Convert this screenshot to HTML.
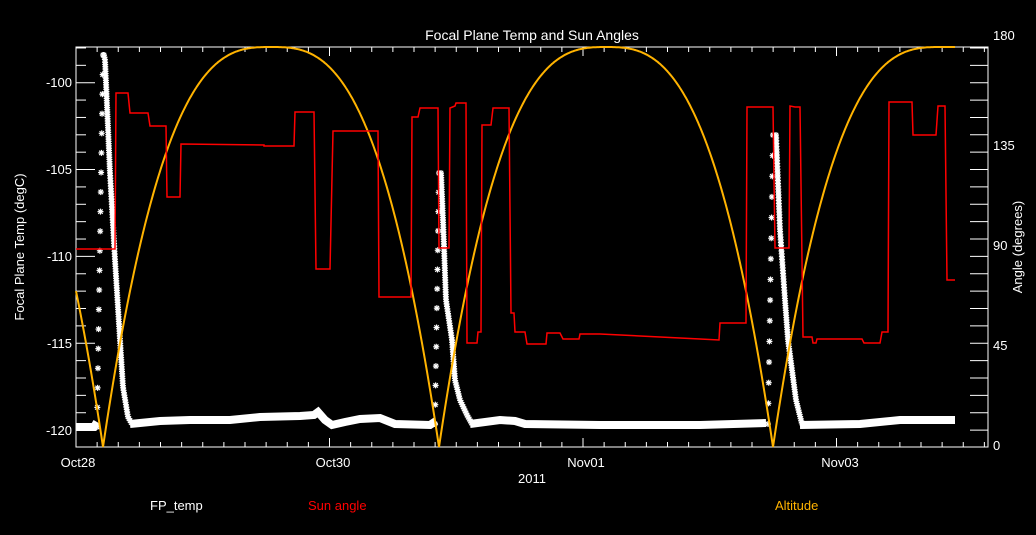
<!DOCTYPE html>
<html><head><meta charset="utf-8"><style>
html,body{margin:0;padding:0;background:#000;}
svg{display:block;}
text{font-family:"Liberation Sans",sans-serif;fill:#fff;}
</style></head><body>
<svg id="s" width="1036" height="535" viewBox="0 0 1036 535" xmlns="http://www.w3.org/2000/svg">
<defs>
<g id="st" stroke="#fff" stroke-width="1.2"><line x1="-3" y1="0" x2="3" y2="0"/><line x1="0" y1="-3" x2="0" y2="3"/><line x1="-2.2" y1="-2.2" x2="2.2" y2="2.2"/><line x1="-2.2" y1="2.2" x2="2.2" y2="-2.2"/></g>
</defs>
<rect width="1036" height="535" fill="#000"/>
<text x="532" y="40" font-size="14" text-anchor="middle">Focal Plane Temp and Sun Angles</text>
<g id="ticks" stroke="#fff" stroke-width="1"></g>
<rect x="76" y="47" width="912" height="400" fill="none" stroke="#fff" stroke-width="1"/>
<g font-size="13" text-anchor="end">
<text x="72" y="87">-100</text><text x="72" y="174">-105</text><text x="72" y="261">-110</text><text x="72" y="348">-115</text><text x="72" y="435">-120</text>
</g>
<g font-size="13">
<text x="993" y="40">180</text><text x="993" y="150">135</text><text x="993" y="250">90</text><text x="993" y="350">45</text><text x="993" y="450">0</text>
</g>
<text font-size="13" text-anchor="middle" transform="translate(24,247) rotate(-90)">Focal Plane Temp (degC)</text>
<text font-size="13" text-anchor="middle" transform="translate(1022,247) rotate(-90)">Angle (degrees)</text>
<g font-size="13" text-anchor="middle">
<text x="78" y="467">Oct28</text><text x="333" y="467">Oct30</text><text x="586" y="467">Nov01</text><text x="840" y="467">Nov03</text>
<text x="532" y="483">2011</text>
</g>
<g font-size="13">
<text x="150" y="510">FP_temp</text>
<text x="308" y="510" style="fill:#ff0000">Sun angle</text>
<text x="775" y="510" style="fill:#ffb300">Altitude</text>
</g>
<g id="data"></g>
</svg>
<script>
var NS="http://www.w3.org/2000/svg";
function el(t,a,p){var e=document.createElementNS(NS,t);for(var k in a)e.setAttribute(k,a[k]);(p||document.getElementById('data')).appendChild(e);return e;}
var tk=document.getElementById('ticks');
for(var T=-98;T>=-120;T--){var y=82.7+(-100-T)*17.37;var maj=(T%5===0);el('line',{x1:76,y1:y,x2:76+(maj?19:10),y2:y},tk);el('line',{x1:988,y1:y,x2:970,y2:y},tk);}
for(var k=0;k<=43;k++){var x=76+k*21.125;if(x>988)break;var maj=(k%12===0);var L=maj?9:5;
 el('line',{x1:x,y1:447,x2:x,y2:447-L},tk);el('line',{x1:x,y1:47,x2:x,y2:47+L},tk);}
function pl(a,attrs){attrs.points=a.map(function(p){return p.join(',')}).join(' ');attrs.fill='none';el('polyline',attrs);}
var W={stroke:'#fff','stroke-width':8};
pl([[76,427],[94,427],[97,422]],W);
pl([[130,424],[140,423],[160,421],[190,420],[230,420],[260,417],[300,416],[314,415],[318,412],[325,420],[332,425],[345,422],[360,419],[380,418],[395,424],[430,425],[436,421]],W);
pl([[470,424],[500,420],[515,421],[525,424],[600,425],[700,425],[766,423]],W);
pl([[800,425],[860,424],[900,420],[955,420]],W);
function spike(xr0,xr1,yp,yb,desc){
 var n=Math.round((yb-yp)/20);
 for(var i=0;i<=n;i++){var f=i/n;el('use',{href:'#st',x:xr0+(xr1-xr0)*f,y:yb-(yb-yp)*f});}
 var px=-99,py=-99;
 for(var s=0;s<desc.length-1;s++){var a=desc[s],b=desc[s+1];
  for(var t=0;t<=1;t+=0.01){var x=a[0]+(b[0]-a[0])*t,y=a[1]+(b[1]-a[1])*t;
   if(Math.hypot(x-px,y-py)>=2.2){el('use',{href:'#st',x:x,y:y});px=x;py=y;}}}
}
spike(97,103,55,427,[[104,55],[105,60],[110,173],[115,260],[120,340],[123,387],[128,417],[132,424]]);
spike(435,439,173,424,[[441,173],[443,220],[446,300],[452,340],[455,380],[460,400],[467,415],[472,424]]);
spike(768,773,135,424,[[776,135],[780,230],[785,300],[788,340],[792,370],[796,400],[802,424]]);
var pts=[];
for(var x=76;x<=955;x+=1){
 var mins=[103,439,773];var best=1e9;for(var j=0;j<3;j++){var d=Math.abs(x-mins[j]);if(d<best){best=d;}}
 var u=Math.min(best/167,1);var f=1-Math.pow(1-u,2.8);var y=447-f*400;pts.push(x+','+y.toFixed(1));}
el('polyline',{points:pts.join(' '),fill:'none',stroke:'#ffb300','stroke-width':2});
var r=[[76,249],[115,249],[116,93],[128,93],[130,113],[148,113],[150,126],[166,126],[167,197],[180,197],[181,144],[264,145],[264,146],[294,146],[295,112],[314,112],[316,269],[330,269],[333,131],[378,131],[379,297],[411,297],[412,117],[418,117],[420,108],[438,108],[439,248],[449,248],[450,108],[455,106],[456,103],[466,103],[467,343],[477,343],[478,332],[481,332],[482,125],[491,125],[493,108],[509,108],[511,313],[514,313],[515,332],[525,332],[527,344],[546,344],[547,333],[560,333],[563,339],[579,339],[580,334],[600,334],[700,339],[719,340],[720,323],[746,323],[747,107],[773,107],[775,248],[789,248],[790,106],[795,107],[800,107],[803,337],[812,337],[813,343],[816,343],[817,339],[862,339],[864,343],[880,343],[882,332],[888,332],[889,102],[912,102],[913,135],[936,135],[938,106],[945,106],[947,280],[955,280]];
pl(r,{stroke:'#ff0000','stroke-width':1.5});
</script>
</body></html>
